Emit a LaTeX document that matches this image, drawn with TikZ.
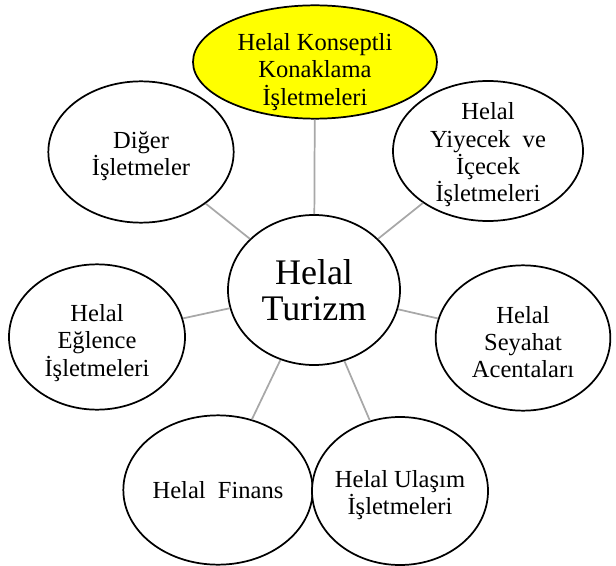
\documentclass[tikz,border=0pt]{standalone}
\usepackage{fontspec}
\setmainfont{Liberation Serif}
\usetikzlibrary{shapes.geometric}
\definecolor{KonClr}{rgb}{1,1,0}
\definecolor{LinkClr}{rgb}{0.66,0.66,0.66}

\begin{document}
\begin{tikzpicture}[x=0.75pt,y=-0.75pt,
  oval/.style={ellipse,draw=black,line width=1.3pt,fill=white,inner sep=0pt},
  lbl/.style={align=center,inner sep=0pt,yshift=-3pt,
    font=\fontsize{18.4}{20.5}\selectfont},
  link/.style={draw=LinkClr,line width=1.3pt}]
\useasboundingbox (0,0) rectangle (616,566);

\node[oval,minimum width=129pt,minimum height=112.5pt,
  label={[lbl,yshift=3pt,font=\fontsize{27}{27}\selectfont]center:{Helal\\Turizm}}]
  (tur) at (314,290) {};

\node[oval,fill=KonClr,minimum width=183pt,minimum height=85pt,
  label={[lbl,yshift=-4.5pt]center:{Helal Konseptli\\Konaklama\\İşletmeleri}}]
  (kon) at (315,62) {};
\node[oval,minimum width=142.5pt,minimum height=105pt,
  label={[lbl]center:{Helal\\Yiyecek\ \ ve\\İçecek\\İşletmeleri}}]
  (yiy) at (488,151) {};
\node[oval,minimum width=139pt,minimum height=106pt,
  label={[lbl]center:{Diğer\\İşletmeler}}]
  (dig) at (141,152) {};
\node[oval,minimum width=132pt,minimum height=109pt,
  label={[lbl,yshift=-1.5pt]center:{Helal\\Eğlence\\İşletmeleri}}]
  (egl) at (97,337) {};
\node[oval,minimum width=131pt,minimum height=109pt,
  label={[lbl]center:{Helal\\Seyahat\\Acentaları}}]
  (sey) at (523,338) {};
\node[oval,minimum width=142pt,minimum height=112pt,
  label={[lbl,yshift=3pt]center:{Helal\ \ Finans}}]
  (fin) at (218,490) {};
\node[oval,minimum width=132pt,minimum height=111pt,
  label={[lbl]center:{Helal Ulaşım\\İşletmeleri}}]
  (ula) at (400,491) {};

% baglantilar
\foreach \n in {kon,yiy,dig,egl,sey,fin,ula}
  \draw[link] (tur) -- (\n);

\end{tikzpicture}
\end{document}
